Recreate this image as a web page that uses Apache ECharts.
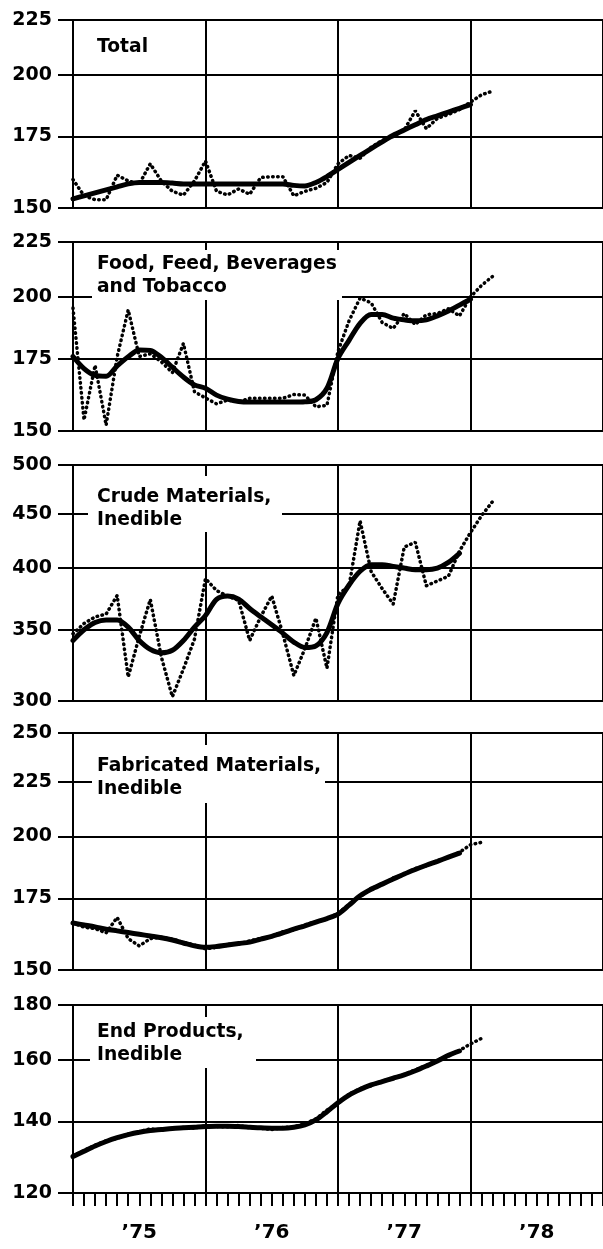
<!DOCTYPE html>
<html>
<head>
<meta charset="utf-8">
<script src="https://cdn.jsdelivr.net/npm/echarts@6/dist/echarts.min.js"></script>
<style>
  html, body { margin: 0; padding: 0; background: #fff; }
  #chart { width: 603px; height: 1249px; }
</style>
</head>
<body>
<div id="chart"></div>
<script>
// months counted from Jan 1975 (0) ; trend = heavy line, monthly = dotted line
var yearLabels = ['\u201975', '\u201976', '\u201977', '\u201978']
var yearLabelPos = [6, 18, 30, 42]

var panelTitles = [
    'Total',
    'Food, Feed, Beverages\nand Tobacco',
    'Crude Materials,\nInedible',
    'Fabricated Materials,\nInedible',
    'End Products,\nInedible'
]

var yTicks = [
    [150, 175, 200, 225],
    [150, 175, 200, 225],
    [300, 350, 400, 450, 500],
    [150, 175, 200, 225, 250],
    [120, 140, 160, 180]
]

var totalTrend = [153, 154, 155, 156, 157, 158, 158.5, 158.5, 158.5, 158.3, 158, 158, 158, 158, 158, 158, 158, 158, 158, 158,
    157.5, 157.3, 158.5, 160.5, 163, 165.5, 168, 170.5, 173, 175.5, 177.5, 179.5, 181.5, 183, 184.5, 186, 187.5]
var totalMonthly = [159.5, 154, 152.7, 152.7, 161, 159, 158, 165, 159, 155.5, 154.2, 159, 166, 155.5, 154.3, 156.3, 154.5,
    160.2, 160.5, 160.5, 154, 155.5, 156.5, 158.5, 165, 168, 167, 171, 173.5, 175, 177.5, 185, 178, 182, 183.5, 185.5,
    188.5, 191.5, 193]

var foodTrend = [176, 171.5, 169, 168.7, 172.5, 175.9, 178.5, 178.3, 175.7, 172, 168.4, 165.6, 164.4, 162, 160.6, 159.8,
    159.6, 159.6, 159.6, 159.6, 159.6, 159.7, 160.4, 164.4, 175.3, 182.2, 189, 192.6, 192.6, 191.1, 190.4, 190, 190.4,
    192, 194, 196.5, 199]
var foodMonthly = [195.3, 153.6, 172.7, 151.9, 175.9, 194.5, 176, 177, 174, 170, 181, 163.2, 161, 159, 160.3, 159.7, 160.9,
    160.9, 160.9, 160.9, 162.2, 162, 158, 158.5, 178, 190, 199.5, 197.5, 189.3, 186.9, 193, 188.5, 192.5, 193, 195, 192,
    200, 205, 209]

var crudeTrend = [342, 350, 355.5, 357.5, 357.5, 352, 342, 335.5, 333, 334.8, 342, 352, 361, 373.8, 376.5, 374, 366.5, 360,
    353.8, 347.5, 340.8, 336.8, 338, 347.9, 370.6, 385.6, 397.3, 403, 403, 401.5, 400, 398.6, 398.6, 400, 405, 413]
var crudeMonthly = [347, 354.8, 359.9, 362.1, 377, 316, 345, 373.8, 330, 302.8, 321.5, 343, 391, 381, 376.5, 373, 342, 360,
    376.5, 347, 317, 336, 358.9, 322, 378, 384.6, 443, 397, 382.6, 370, 418.6, 423, 385, 389, 393, 415, 432, 448, 462]

var fabTrend = [166, 165.3, 164.6, 163.8, 163.2, 162.6, 162, 161.4, 160.8, 160, 159, 158, 157.5, 157.8, 158.3, 158.8, 159.3,
    160.3, 161.3, 162.5, 163.8, 165, 166.3, 167.6, 169.2, 172.5, 176, 178.5, 180.5, 182.5, 184.5, 186.3, 188, 189.6,
    191.3, 193]
var fabMonthly = [166, 164.5, 164, 162.5, 168, 160.5, 158, 160.5, 161, 160.3, 159.2, 158.3, 157, 157.5, 158.6, 158.6, 159.7,
    160.6, 161.3, 162.9, 163.5, 165.3, 166.5, 167.4, 169.5, 172.8, 175.6, 178.9, 180.3, 182.9, 184.3, 186.7, 187.8,
    189.9, 191.1, 193.3, 196.5, 197.5]

var endTrend = [129.8, 131.3, 132.8, 134.1, 135.2, 136.1, 136.8, 137.3, 137.6, 137.9, 138.1, 138.3, 138.5, 138.6, 138.6,
    138.5, 138.3, 138.1, 138, 138, 138.3, 139, 140.5, 143, 145.8, 148.2, 150, 151.5, 152.6, 153.7, 154.8, 156.2, 157.8,
    159.5, 161.5, 163]
var endMonthly = [130, 131.5, 133, 134.3, 135, 136.3, 137, 137.8, 137.5, 138, 138.2, 138, 138.8, 138.5, 138.4, 138.8, 138.2,
    138, 137.6, 138.2, 138.4, 139.3, 140.8, 143.5, 145.5, 148.5, 150.3, 151.2, 152.8, 153.5, 155, 156.5, 158, 159.8,
    161.2, 163.2, 165.5, 167.5]

var trends = [totalTrend, foodTrend, crudeTrend, fabTrend, endTrend]
var monthlies = [totalMonthly, foodMonthly, crudeMonthly, fabMonthly, endMonthly]

// layout of the five stacked panels
var grids = [
    { left: 73, right: -4, top: 20, height: 188 },
    { left: 73, right: -4, top: 242, height: 189 },
    { left: 73, right: -4, top: 465, height: 236 },
    { left: 73, right: -4, top: 733, height: 237 },
    { left: 73, right: -4, top: 1005, height: 188 }
]
var titleTops = [36, 253, 486, 755, 1021]
var boxes = [
    [90, 30, 75, 36],
    [92, 250, 250, 50],
    [88, 476, 194, 56],
    [92, 745, 233, 58],
    [90, 1017, 166, 51]
]

var ink = '#000'
var font = 'DejaVu Sans'

var chart = echarts.init(document.getElementById('chart'))

var pairs = function (arr) {
    return arr.map(function (v, i) { return [i, v] })
}

var xAxes = [], yAxes = [], series = [], titles = [], graphics = []

for (var i = 0; i < 5; i++) {
    var last = i === 4
    xAxes.push({
        gridIndex: i,
        type: 'value',
        min: 0,
        max: 48,
        interval: 12,
        axisLine: { show: true, lineStyle: { color: ink, width: 2 } },
        axisTick: { show: last, length: 13, lineStyle: { color: ink, width: 2 } },
        minorTick: { show: last, splitNumber: 12, length: 13, lineStyle: { color: ink, width: 2 } },
        axisLabel: {
            show: last,
            customValues: yearLabelPos,
            formatter: function (v) { return yearLabels[(v - 6) / 12] },
            margin: 30,
            color: ink,
            fontSize: 20,
            fontWeight: 'bold',
            fontFamily: font
        },
        splitLine: { show: true, lineStyle: { color: ink, width: 2 } }
    })
    var t = yTicks[i]
    yAxes.push({
        gridIndex: i,
        type: 'log',
        min: t[0],
        max: t[t.length - 1],
        axisLine: { show: true, lineStyle: { color: ink, width: 2 } },
        axisTick: { show: true, length: 15, customValues: t, lineStyle: { color: ink, width: 2 } },
        axisLabel: {
            customValues: t,
            margin: 21,
            color: ink,
            fontSize: 19,
            fontWeight: 'bold',
            fontFamily: font
        },
        splitLine: { show: true, lineStyle: { color: ink, width: 2 } }
    })
    series.push({
        type: 'line',
        xAxisIndex: i,
        yAxisIndex: i,
        data: pairs(monthlies[i]),
        showSymbol: false,
        symbol: 'none',
        lineStyle: { color: ink, width: 3.5, type: [0.5, 4.5], cap: 'round' },
        z: 3
    })
    series.push({
        type: 'line',
        xAxisIndex: i,
        yAxisIndex: i,
        data: pairs(trends[i]),
        smooth: 0.3,
        showSymbol: false,
        symbol: 'none',
        lineStyle: { color: ink, width: 5, cap: 'round' },
        z: 2
    })
    titles.push({
        text: panelTitles[i],
        left: 97,
        top: titleTops[i],
        padding: 0,
        textStyle: { color: ink, fontSize: 18.7, fontWeight: 'bold', fontFamily: font, lineHeight: 23 }
    })
    var b = boxes[i]
    graphics.push({
        type: 'rect',
        shape: { x: b[0], y: b[1], width: b[2], height: b[3] },
        style: { fill: '#fff' },
        z: 4
    })
}

var option = {
    backgroundColor: '#fff',
    animation: false,
    title: titles,
    grid: grids,
    xAxis: xAxes,
    yAxis: yAxes,
    graphic: graphics,
    series: series
}

chart.setOption(option)
</script>
</body>
</html>
